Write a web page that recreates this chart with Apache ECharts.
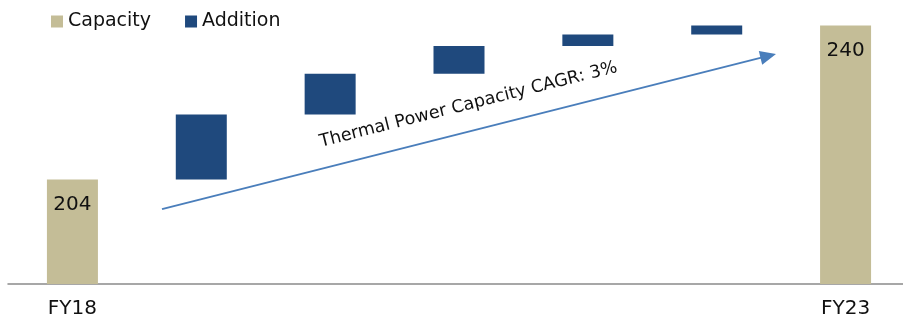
<!DOCTYPE html>
<html>
<head>
<meta charset="utf-8">
<script src="https://cdn.jsdelivr.net/npm/echarts@6/dist/echarts.min.js"></script>
<style>
  html, body { margin: 0; padding: 0; background: #ffffff; }
  #chart { width: 903px; height: 319px; }
</style>
</head>
<body>
<div id="chart"></div>
<script>
// categorías del waterfall (solo la primera y la última llevan etiqueta)
const categories = ['FY18', 'FY19', 'FY20', 'FY21', 'FY22', 'FY23 add', 'FY23'];
const tickLabels = ['FY18', '', '', '', '', '', 'FY23'];
const capacity = [204, '-', '-', '-', '-', '-', 240];
const addition = ['-', 15.2, 9.5, 6.5, 2.7, 2.1, '-'];
const cagrText = 'Thermal Power Capacity CAGR: 3%';
// flecha de tendencia, en coordenadas de datos (índice de categoría, GW)
const arrowStart = [0.695, 197.1];
const arrowEnd = [5.40, 232.9];

// base invisible: suma acumulada de capacidad + adiciones
const base = [];
let running = 0;
for (let i = 0; i < categories.length; i++) {
  if (capacity[i] !== '-') {
    base.push(0);
    running = capacity[i];
  } else {
    base.push(running);
    running += addition[i];
  }
}

const font = 'DejaVu Sans';
const chart = echarts.init(document.getElementById('chart'));

const option = {
  backgroundColor: '#ffffff',
  animation: false,
  textStyle: { fontFamily: font },
  legend: {
    data: ['Capacity', 'Addition'],
    left: 46,
    top: 7,
    itemWidth: 12,
    itemHeight: 12,
    itemGap: 34,
    icon: 'rect',
    textStyle: { fontSize: 19, color: '#111', fontFamily: font }
  },
  grid: { left: 8, width: 902, top: 25.5, bottom: 35, outerBoundsMode: 'none' },
  xAxis: [{
    type: 'category',
    data: categories,
    axisTick: { show: false },
    axisLine: { lineStyle: { color: '#8a8a8a', width: 1.5 } },
    axisLabel: {
      interval: 0,
      margin: 15,
      fontSize: 20,
      color: '#111',
      formatter: (v, i) => tickLabels[i]
    }
  }, {
    type: 'value',
    min: -0.5,
    max: 6.5,
    show: false
  }],
  yAxis: {
    type: 'value',
    min: 179.6,
    max: 240,
    show: false,
    splitLine: { show: false }
  },
  series: [
    {
      name: 'base',
      type: 'bar',
      stack: 'wf',
      barWidth: 51,
      itemStyle: { color: 'transparent' },
      emphasis: { disabled: true },
      data: base
    },
    {
      name: 'Capacity',
      type: 'bar',
      stack: 'wf',
      barWidth: 51,
      itemStyle: { color: '#c4bd97' },
      label: {
        show: true,
        position: 'insideTop',
        distance: 15,
        fontSize: 20,
        color: '#111',
        fontFamily: font
      },
      data: capacity
    },
    {
      name: 'Addition',
      type: 'bar',
      stack: 'wf',
      barWidth: 51,
      itemStyle: { color: '#1f497d' },
      data: addition
    },
    {
      name: 'trend',
      type: 'line',
      xAxisIndex: 1,
      data: [],
      markLine: {
        silent: true,
        symbol: ['none', 'triangle'],
        symbolSize: [14, 16],
        lineStyle: { color: '#4a7ebb', width: 2, type: 'solid' },
        itemStyle: { color: '#4a7ebb' },
        label: {
          show: true,
          position: 'middle',
          distance: 17,
          padding: [0, 0, 0, 20],
          formatter: cagrText,
          fontSize: 17.5,
          color: '#111',
          fontFamily: font
        },
        data: [[{ coord: arrowStart }, { coord: arrowEnd }]]
      }
    }
  ]
};

chart.setOption(option);
window.onresize = function () { chart.resize(); };
</script>
</body>
</html>
